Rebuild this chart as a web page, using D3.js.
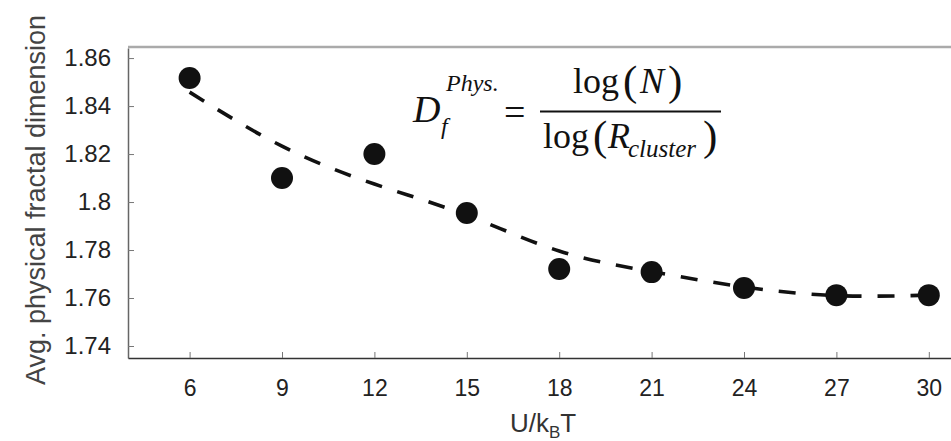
<!DOCTYPE html>
<html>
<head>
<meta charset="utf-8">
<script src="https://cdn.jsdelivr.net/npm/d3@7"></script>
<style>
  body { margin: 0; background: #fff; }
  svg { display: block; }
  .tick text { font-family: "Liberation Sans", Arial, sans-serif; }
</style>
</head>
<body>
<div id="chart"></div>
<script>
// values
const energies = [6, 9, 12, 15, 18, 21, 24, 27, 30];
const fractalDim = [1.8517, 1.8100, 1.8200, 1.7954, 1.7721, 1.7708, 1.7642, 1.7612, 1.7612];
const fitLine = [1.8458, 1.8233, 1.8075, 1.7945, 1.7796, 1.7710, 1.7646, 1.7610, 1.7612];
const yTicks = [1.74, 1.76, 1.78, 1.8, 1.82, 1.84, 1.86];
const xTicks = [6, 9, 12, 15, 18, 21, 24, 27, 30];

const width = 951, height = 441;
const plot = { left: 128, top: 48, bottom: 358 };

const svg = d3.select("#chart").append("svg")
    .attr("width", width)
    .attr("height", height);

const x = d3.scaleLinear().domain([4, 31]).range([plot.left, plot.left + 27 * 30.8]);
const y = d3.scaleLinear().domain([1.735, 1.8642]).range([plot.bottom, plot.top]);

// frame: top border (light), left + bottom axes
svg.append("line")
    .attr("x1", plot.left).attr("x2", width)
    .attr("y1", plot.top - 1).attr("y2", plot.top - 1)
    .attr("stroke", "#aaa").attr("stroke-width", 2.5);

const yAxis = svg.append("g")
    .attr("transform", `translate(${plot.left},0)`)
    .call(d3.axisLeft(y).tickValues(yTicks).tickSizeInner(-6).tickSizeOuter(0).tickPadding(17)
        .tickFormat(d => d3.format("")(+d.toFixed(2))));
yAxis.select(".domain").attr("stroke", "#666").attr("stroke-width", 1.5);
yAxis.selectAll(".tick line").attr("stroke", "#777");
yAxis.selectAll(".tick text").attr("font-size", 24).attr("fill", "#222");

const xAxis = svg.append("g")
    .attr("transform", `translate(0,${plot.bottom})`)
    .call(d3.axisBottom(x).tickValues(xTicks).tickSizeInner(-6).tickSizeOuter(0).tickPadding(22));
xAxis.select(".domain").attr("stroke", "#333").attr("stroke-width", 1.5);
xAxis.selectAll(".tick line").attr("stroke", "#777");
xAxis.selectAll(".tick text").attr("font-size", 23).attr("fill", "#222");

// axis titles
svg.append("text")
    .attr("transform", "translate(45,200) rotate(-90)")
    .attr("text-anchor", "middle")
    .attr("font-family", "Liberation Sans, Arial, sans-serif")
    .attr("font-size", 27)
    .attr("fill", "#444")
    .text("Avg. physical fractal dimension");

const xt = svg.append("text")
    .attr("x", 543).attr("y", 432)
    .attr("text-anchor", "middle")
    .attr("font-family", "Liberation Sans, Arial, sans-serif")
    .attr("font-size", 26)
    .attr("fill", "#333");
xt.append("tspan").text("U/k");
xt.append("tspan").attr("font-size", 17).attr("dy", 6).text("B");
xt.append("tspan").attr("dy", -6).text("T");

// fitted dashed curve
const fitData = energies.map((e, i) => ({ e, v: fitLine[i] }));
svg.append("path")
    .datum(fitData)
    .attr("fill", "none")
    .attr("stroke", "#111")
    .attr("stroke-width", 3.6)
    .attr("stroke-dasharray", "17 16")
    .attr("d", d3.line().x(d => x(d.e)).y(d => y(d.v)).curve(d3.curveNatural));

// data points
svg.selectAll("circle.pt")
    .data(energies.map((e, i) => ({ e, v: fractalDim[i] })))
    .join("circle")
    .attr("class", "pt")
    .attr("cx", d => x(d.e))
    .attr("cy", d => y(d.v))
    .attr("r", 11)
    .attr("fill", "#111");

// formula
const serif = "Liberation Serif, Times New Roman, serif";
const eq = svg.append("g").attr("font-family", serif).attr("fill", "#111");
function piece(px, py, size, txt, italic) {
  return eq.append("text").attr("x", px).attr("y", py).attr("font-size", size)
      .attr("font-style", italic ? "italic" : "normal").text(txt);
}
piece(413, 122, 38, "D", true);
piece(446, 91, 24, "Phys.", true);
piece(441, 134, 24, "f", true);
piece(504, 125, 38, "=", false);
eq.append("line").attr("x1", 540).attr("x2", 721).attr("y1", 111.5).attr("y2", 111.5)
    .attr("stroke", "#111").attr("stroke-width", 1.8);

// numerator
piece(573, 93, 36, "log", false);
piece(623, 95, 43, "(", false);
piece(640, 93, 36, "N", true);
piece(668, 95, 43, ")", false);

// denominator
piece(543, 148, 36, "log", false);
piece(593, 150, 43, "(", false);
piece(608, 148, 36, "R", true);
piece(628, 157, 25, "cluster", true);
piece(703, 150, 43, ")", false);
</script>
</body>
</html>
